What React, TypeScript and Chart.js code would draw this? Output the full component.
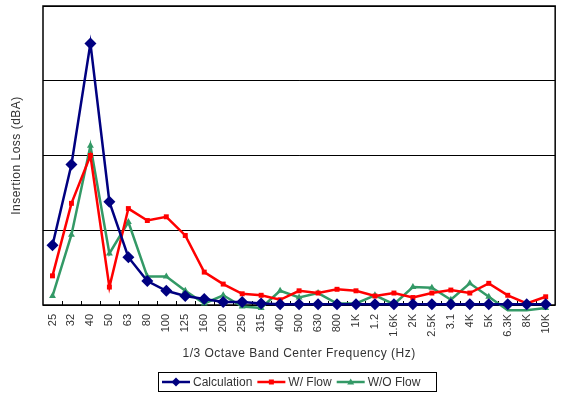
import { useEffect, useRef } from "react";
import { Chart, registerables } from "chart.js";

Chart.register(...registerables);

const bands = [
  "25", "32", "40", "50", "63", "80", "100", "125", "160", "200", "250", "315",
  "400", "500", "630", "800", "1K", "1.2", "1.6K", "2K", "2.5K", "3.1", "4K",
  "5K", "6.3K", "8K", "10K",
];

const calculation = [
  8.0, 18.8, 35.0, 13.8, 6.4, 3.2, 1.9, 1.2, 0.8, 0.4, 0.4, 0.2,
  0.1, 0.1, 0.1, 0.1, 0.1, 0.1, 0.1, 0.1, 0.1, 0.1, 0.1,
  0.1, 0.1, 0.1, 0.1,
];

const withFlow = [
  3.9, 13.6, 20.0, 2.4, 12.9, 11.3, 11.8, 9.3, 4.4, 2.8, 1.5, 1.3,
  0.7, 1.9, 1.6, 2.1, 1.9, 1.2, 1.6, 1.0, 1.6, 2.0, 1.6,
  2.9, 1.3, 0.2, 1.1,
];

const withoutFlow = [
  1.2, 9.4, 21.3, 6.9, 11.1, 3.8, 3.8, 1.9, 0.2, 1.3, -0.2, -0.4,
  1.9, 1.0, 1.6, 0.2, 0.2, 1.3, 0.1, 2.4, 2.3, 0.7, 2.9,
  1.1, -0.7, -0.7, -0.4,
];

const yTicks = [0, 10, 20, 30, 40];

const FONT = "'Liberation Sans', Arial, sans-serif";
const TEXT = "#333333";

const seriesStyles = [
  { label: "Calculation", color: "#000080", point: "rectRot", radius: 6 },
  { label: "W/ Flow", color: "#ff0000", point: "rect", radius: 3.5 },
  { label: "W/O Flow", color: "#339966", point: "triangle", radius: 4 },
];

// Frame, inner tick marks, axis titles and the boxed legend
const decorations = {
  id: "decorations",
  beforeDatasetsDraw(chart: any) {
    const { ctx, chartArea } = chart;
    const { left, right, top, bottom } = chartArea;
    ctx.save();
    ctx.strokeStyle = "#000";
    ctx.lineWidth = 1;
    const n = bands.length;
    const step = (right - left) / n;
    ctx.beginPath();
    for (let i = 1; i < n; i++) {
      const x = Math.round(left + i * step) + 0.5;
      ctx.moveTo(x, bottom);
      ctx.lineTo(x, bottom - 4);
    }
    ctx.stroke();
    ctx.lineWidth = 1.5;
    ctx.strokeRect(left, top, right - left, bottom - top);
    ctx.restore();
  },
  afterDraw(chart: any) {
    const { ctx, chartArea } = chart;
    const { left, right, top, bottom } = chartArea;
    ctx.save();
    ctx.fillStyle = TEXT;
    ctx.textAlign = "center";
    ctx.textBaseline = "middle";

    ctx.font = `12px ${FONT}`;
    (ctx as any).letterSpacing = "0.5px";
    ctx.fillText("1/3 Octave Band Center Frequency (Hz)", (left + right) / 2, 354);

    ctx.save();
    ctx.translate(17, (top + bottom) / 2);
    ctx.rotate(-Math.PI / 2);
    ctx.font = `12px ${FONT}`;
    ctx.fillText("Insertion Loss (dBA)", 0, 0);
    ctx.restore();
    (ctx as any).letterSpacing = "0px";

    // legend
    const boxX = 158.5, boxY = 372.5, boxW = 278, boxH = 19;
    ctx.fillStyle = "#fff";
    ctx.fillRect(boxX, boxY, boxW, boxH);
    ctx.strokeStyle = "#000";
    ctx.lineWidth = 1;
    ctx.strokeRect(boxX, boxY, boxW, boxH);
    ctx.font = `12px ${FONT}`;
    ctx.textAlign = "left";
    let x = 162;
    const cy = boxY + boxH / 2;
    seriesStyles.forEach((s) => {
      ctx.strokeStyle = s.color;
      ctx.lineWidth = 2.5;
      ctx.beginPath();
      ctx.moveTo(x, cy);
      ctx.lineTo(x + 28, cy);
      ctx.stroke();
      ctx.fillStyle = s.color;
      const mx = x + 14;
      ctx.beginPath();
      if (s.point === "rectRot") {
        ctx.moveTo(mx, cy - 4.5);
        ctx.lineTo(mx + 4.5, cy);
        ctx.lineTo(mx, cy + 4.5);
        ctx.lineTo(mx - 4.5, cy);
      } else if (s.point === "rect") {
        ctx.rect(mx - 2.5, cy - 2.5, 5, 5);
      } else {
        ctx.moveTo(mx, cy - 3.5);
        ctx.lineTo(mx + 3.5, cy + 2.5);
        ctx.lineTo(mx - 3.5, cy + 2.5);
      }
      ctx.closePath();
      ctx.fill();
      ctx.fillStyle = TEXT;
      ctx.fillText(s.label, x + 31, cy + 1);
      x += 31 + ctx.measureText(s.label).width + 5;
    });
    ctx.restore();
  },
};

export default function App() {
  const canvasRef = useRef<HTMLCanvasElement | null>(null);

  useEffect(() => {
    document.body.style.margin = "0";
    const canvas = canvasRef.current;
    if (!canvas) return;
    const values = [calculation, withFlow, withoutFlow];
    const chart = new Chart(canvas, {
      type: "line",
      data: {
        labels: bands,
        datasets: seriesStyles.map((s, i) => ({
          label: s.label,
          data: values[i],
          borderColor: s.color,
          backgroundColor: s.color,
          borderWidth: 2.5,
          pointStyle: s.point as any,
          pointRadius: s.radius,
          pointHoverRadius: s.radius,
          pointBorderWidth: 0,
          tension: 0,
          clip: false as any,
        })),
      },
      options: {
        animation: false,
        responsive: false,
        devicePixelRatio: 1,
        layout: { padding: { top: 6, right: 4, left: 0, bottom: 0 } },
        plugins: {
          legend: { display: false },
          tooltip: { enabled: false },
        },
        scales: {
          x: {
            offset: true,
            grid: { display: false, drawTicks: false },
            border: { display: false },
            ticks: {
              autoSkip: false,
              minRotation: 90,
              maxRotation: 90,
              padding: 9,
              color: TEXT,
              font: { family: FONT, size: 11 },
            },
            afterFit(scale: any) {
              scale.height = 89;
            },
          },
          y: {
            min: yTicks[0],
            max: yTicks[yTicks.length - 1],
            afterBuildTicks(scale: any) {
              scale.ticks = yTicks.map((v) => ({ value: v }));
            },
            grid: { color: "#000", lineWidth: 1, drawTicks: false },
            border: { display: false },
            ticks: { display: false },
            afterFit(scale: any) {
              scale.width = 43;
            },
          },
        },
      },
      plugins: [decorations],
    });
    return () => chart.destroy();
  }, []);

  return (
    <div style={{ position: "absolute", left: 0, top: 0, width: 568, height: 394, background: "#fff" }}>
      <canvas ref={canvasRef} width={568} height={394} style={{ display: "block" }} />
    </div>
  );
}
